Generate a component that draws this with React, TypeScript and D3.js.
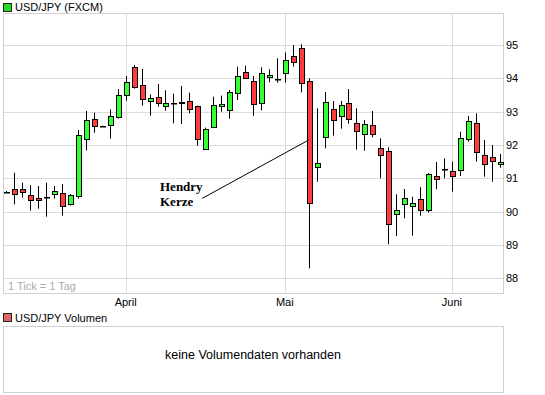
import React, { useRef, useEffect } from 'react';
import * as d3 from 'd3';

// trading days (FXCM daily candles, Mar-Jun 2010)
const dates = [
  '2010-03-11', '2010-03-12', '2010-03-15', '2010-03-16', '2010-03-17', '2010-03-18', '2010-03-19',
  '2010-03-22', '2010-03-23', '2010-03-24', '2010-03-25', '2010-03-26', '2010-03-29', '2010-03-30',
  '2010-03-31', '2010-04-01', '2010-04-06', '2010-04-07', '2010-04-08', '2010-04-09', '2010-04-12',
  '2010-04-13', '2010-04-14', '2010-04-15', '2010-04-16', '2010-04-19', '2010-04-20', '2010-04-21',
  '2010-04-22', '2010-04-23', '2010-04-26', '2010-04-27', '2010-04-28', '2010-04-29', '2010-04-30',
  '2010-05-03', '2010-05-04', '2010-05-05', '2010-05-06', '2010-05-07', '2010-05-10', '2010-05-11',
  '2010-05-12', '2010-05-13', '2010-05-14', '2010-05-17', '2010-05-18', '2010-05-19', '2010-05-20',
  '2010-05-21', '2010-05-24', '2010-05-25', '2010-05-26', '2010-05-27', '2010-05-28', '2010-05-31',
  '2010-06-01', '2010-06-02', '2010-06-03', '2010-06-04', '2010-06-07', '2010-06-08', '2010-06-09'
];

const open = [
  90.60, 90.67, 90.67, 90.49, 90.40, 90.43, 90.52, 90.55, 90.22, 90.46, 92.17, 92.77, 92.56, 92.59,
  92.82, 93.48, 94.33, 93.80, 93.31, 93.43, 93.16, 93.25, 93.28, 93.33, 93.16, 91.90, 92.53, 93.16,
  93.04, 93.55, 94.18, 93.92, 93.26, 94.04, 93.98, 94.15, 94.67, 94.90, 93.92, 91.36, 92.23, 93.07,
  92.86, 93.25, 92.65, 92.32, 92.59, 91.90, 91.83, 89.92, 90.22, 90.16, 90.37, 90.04, 91.06, 91.29,
  91.21, 91.24, 92.17, 92.65, 91.70, 91.64, 91.42
];
const high = [
  90.62, 91.17, 90.87, 90.80, 90.77, 90.87, 90.77, 90.83, 90.53, 92.45, 93.02, 92.97, 92.58, 93.07,
  93.68, 94.07, 94.40, 94.28, 93.52, 93.83, 93.64, 93.54, 93.77, 93.57, 93.18, 92.52, 93.45, 93.48,
  93.65, 94.35, 94.38, 94.07, 94.33, 94.27, 94.60, 94.78, 95.00, 95.02, 94.00, 93.10, 93.59, 93.32,
  93.32, 93.68, 93.10, 92.75, 93.02, 92.20, 91.93, 90.52, 90.68, 90.45, 90.73, 91.16, 91.49, 91.60,
  91.50, 92.40, 92.87, 92.95, 92.15, 92.00, 91.73
];
const low = [
  90.57, 90.22, 90.42, 90.03, 90.09, 89.85, 90.39, 89.88, 90.18, 90.39, 91.84, 92.37, 92.55, 92.19,
  92.79, 93.33, 93.69, 93.18, 92.88, 93.15, 93.03, 92.65, 92.63, 92.95, 91.98, 91.88, 92.52, 93.00,
  92.79, 93.35, 93.98, 92.88, 93.04, 93.88, 93.87, 93.87, 94.35, 93.58, 88.30, 90.90, 91.90, 92.28,
  92.49, 92.64, 91.86, 91.83, 92.23, 91.00, 89.02, 89.27, 89.80, 89.28, 89.88, 89.97, 90.67, 91.00,
  90.60, 91.07, 92.10, 91.50, 91.05, 90.90, 91.32
];
const close = [
  90.60, 90.52, 90.58, 90.34, 90.34, 90.43, 90.62, 90.16, 90.49, 92.30, 92.74, 92.56, 92.56, 92.86,
  93.49, 93.88, 93.72, 93.37, 93.40, 93.25, 93.25, 93.25, 93.26, 93.10, 92.17, 92.49, 93.19, 93.23,
  93.59, 94.06, 94.00, 93.22, 94.15, 94.09, 93.98, 94.54, 94.48, 93.85, 90.25, 91.47, 93.28, 92.74,
  93.19, 92.77, 92.41, 92.62, 92.32, 91.69, 89.65, 90.04, 90.40, 90.25, 90.04, 91.12, 90.97, 91.29,
  91.06, 92.20, 92.72, 91.78, 91.42, 91.51, 91.48
];

const yTicks = [88, 89, 90, 91, 92, 93, 94, 95];
const monthTicks = ['2010-04-01', '2010-05-03', '2010-06-01'];
const monthLabels = ['April', 'Mai', 'Juni'];

const FONT = '"Liberation Sans", Arial, sans-serif';

function drawChart(ref) {
  const W = 545, H = 395;
  const plot = { left: 3, right: 503, top: 13, bottom: 293 };

  d3.select(ref.current).selectAll('*').remove();
  const svg = d3.select(ref.current)
                .append('svg')
                .attr('width', W)
                .attr('height', H)
                .style('position', 'absolute')
                .style('left', 0)
                .style('top', 0)
                .style('background', '#fff');

  const x = d3.scalePoint()
              .domain(dates)
              .range([6.3, 499.7]);
  const y = d3.scaleLinear()
              .domain([87.56, 95.96])
              .range([plot.bottom, plot.top]);
  const px = (d) => Math.round(x(d)) + 0.5;

  // title legend
  svg.append('rect').attr('x', 3.5).attr('y', 3.5).attr('width', 8).attr('height', 8)
     .attr('fill', '#22dd22').attr('stroke', '#222');
  svg.append('text').attr('x', 15).attr('y', 11).attr('font-family', FONT).attr('font-size', 11)
     .text('USD/JPY (FXCM)');

  // grid
  svg.append('g').selectAll('line').data(yTicks).join('line')
     .attr('x1', plot.left).attr('x2', plot.right)
     .attr('y1', (d) => Math.round(y(d)) + 0.5).attr('y2', (d) => Math.round(y(d)) + 0.5)
     .attr('stroke', '#dcdcdc');
  svg.append('g').selectAll('line').data(monthTicks).join('line')
     .attr('x1', px).attr('x2', px)
     .attr('y1', plot.top).attr('y2', plot.bottom)
     .attr('stroke', '#dcdcdc');
  svg.append('rect')
     .attr('x', plot.left + 0.5).attr('y', plot.top + 0.5)
     .attr('width', plot.right - plot.left).attr('height', plot.bottom - plot.top)
     .attr('fill', 'none').attr('stroke', '#d0d0d0');

  // right axis labels
  svg.append('g').selectAll('text').data(yTicks).join('text')
     .attr('x', 506).attr('y', (d) => y(d) + 4)
     .attr('font-family', FONT).attr('font-size', 11)
     .text((d) => d);

  // month labels
  svg.append('g').selectAll('text').data(monthTicks).join('text')
     .attr('x', (d) => x(d)).attr('y', 306)
     .attr('text-anchor', 'middle')
     .attr('font-family', FONT).attr('font-size', 11)
     .text((d, i) => monthLabels[i]);

  svg.append('text').attr('x', 8).attr('y', 290).attr('font-family', FONT).attr('font-size', 11)
     .attr('fill', '#aaa').text('1 Tick = 1 Tag');

  // candles
  const idx = d3.range(dates.length);
  const g = svg.append('g');
  g.selectAll('line').data(idx).join('line')
   .attr('x1', (i) => px(dates[i])).attr('x2', (i) => px(dates[i]))
   .attr('y1', (i) => y(high[i])).attr('y2', (i) => y(low[i]))
   .attr('stroke', '#000');
  g.selectAll('rect').data(idx).join('rect')
   .attr('x', (i) => px(dates[i]) - 2)
   .attr('y', (i) => Math.round(y(Math.max(open[i], close[i]))) + 0.5)
   .attr('width', 5)
   .attr('height', (i) => Math.max(0.5, Math.round(y(Math.min(open[i], close[i])) - y(Math.max(open[i], close[i])))))
   .attr('fill', (i) => close[i] >= open[i] ? '#33ff33' : '#ff3b3b')
   .attr('stroke', '#000');

  // annotation
  const ann = svg.append('g');
  ann.append('line')
     .attr('x1', x(dates[24]) + 5).attr('y1', y(90.4))
     .attr('x2', x(dates[38])).attr('y2', y(92.15))
     .attr('stroke', '#000');
  ann.append('text').attr('x', 160).attr('y', 191)
     .attr('font-family', '"Liberation Serif", serif').attr('font-weight', 'bold').attr('font-size', 13)
     .text('Hendry');
  ann.append('text').attr('x', 160).attr('y', 206)
     .attr('font-family', '"Liberation Serif", serif').attr('font-weight', 'bold').attr('font-size', 13)
     .text('Kerze');

  // volume panel
  svg.append('rect').attr('x', 3.5).attr('y', 313.5).attr('width', 8).attr('height', 8)
     .attr('fill', '#dd6666').attr('stroke', '#222');
  svg.append('text').attr('x', 15).attr('y', 322).attr('font-family', FONT).attr('font-size', 11)
     .text('USD/JPY Volumen');
  svg.append('rect')
     .attr('x', plot.left + 0.5).attr('y', 326.5)
     .attr('width', plot.right - plot.left).attr('height', 66)
     .attr('fill', 'none').attr('stroke', '#d0d0d0');
  svg.append('text').attr('x', 253).attr('y', 359)
     .attr('text-anchor', 'middle')
     .attr('font-family', FONT).attr('font-size', 12.5)
     .text('keine Volumendaten vorhanden');
}

export default function App() {
  const chart = useRef(null);

  useEffect(() => {
    drawChart(chart);
  }, []);

  return <div ref={chart}></div>;
}
